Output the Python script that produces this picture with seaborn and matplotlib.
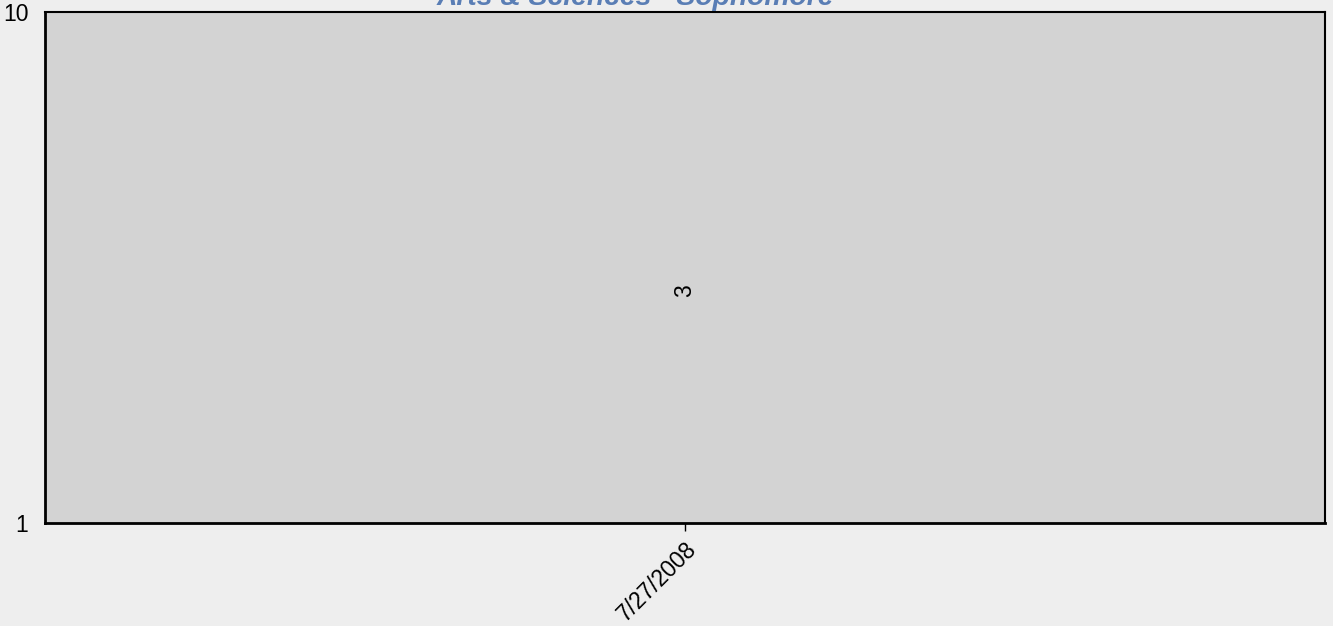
import numpy as np
import pandas as pd
import matplotlib
matplotlib.use("Agg")
import matplotlib.pyplot as plt
import seaborn as sns

# dados
dates = ["7/27/2008"]
counts = [3]
title = "Arts & Sciences - Sophomore"

df = pd.DataFrame({"date": dates, "count": counts})

sns.set_style("white")
plt.rcParams["font.family"] = ["Liberation Sans", "DejaVu Sans"]

fig = plt.figure(figsize=(13.33, 6.26), dpi=100, facecolor="#EEEEEE")
ax = fig.add_axes([45 / 1333, 1 - 523 / 626, 1280 / 1333, 511 / 626])
ax.set_facecolor("#D3D3D3")

# barra invisível (mesma cor do fundo), só o rótulo aparece
sns.barplot(data=df, x="date", y="count", color="#D3D3D3", saturation=1,
            edgecolor="none", ax=ax, width=0.8)
ax.set_yscale("log")
ax.set_ylim(1, 10)
ax.set_xlim(-0.5, 0.5)
ax.set_yticks([1, 10])
ax.set_yticklabels(["1", "10"])
ax.minorticks_off()
ax.set_xlabel("")
ax.set_ylabel("")

for i, v in enumerate(counts):
    ax.annotate(str(v), (i, v), xytext=(0, -11), textcoords="offset pixels",
                rotation=90, ha="center", va="center", fontsize=16.5, color="black")

for s in ax.spines.values():
    s.set_visible(True)
    s.set_color("black")
    s.set_linewidth(1.5)
ax.spines["bottom"].set_linewidth(2)
ax.spines["left"].set_linewidth(2)

ax.tick_params(axis="y", left=True, length=0, pad=12, labelsize=16.5, colors="black")
ax.tick_params(axis="x", bottom=True, length=11.5, width=1, direction="inout", pad=5,
               labelsize=16.5, colors="black")
plt.setp(ax.get_xticklabels(), rotation=45, ha="right", rotation_mode="anchor")

fig.text(635 / 1333, 1 - 5 / 626, title, ha="center", va="baseline",
         fontsize=20.3, fontweight="bold", fontstyle="italic", color="#5A7EB5")

fig.savefig("out.png", dpi=100, facecolor=fig.get_facecolor())
